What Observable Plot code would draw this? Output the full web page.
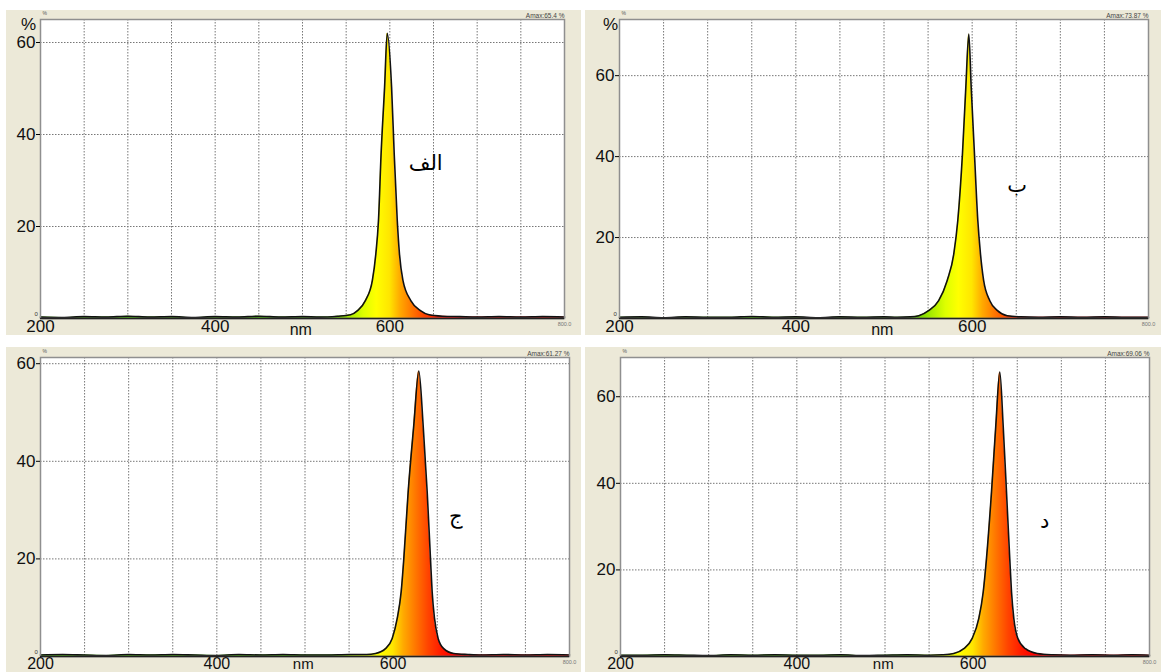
<!DOCTYPE html>
<html><head><meta charset="utf-8">
<script src="https://cdn.jsdelivr.net/npm/d3@7"></script>
<script src="https://cdn.jsdelivr.net/npm/@observablehq/plot@0.6"></script>
<style>
html,body{margin:0;padding:0;background:#fff}
#root{position:relative;width:1161px;height:672px;overflow:hidden;background:#fff}
.panel{position:absolute}
</style></head><body>
<div id="root"></div>
<script>
// ---- data ----
const wlA  = [200,225,250,275,300,325,350,375,400,425,450,475,500,520,540,555,563,572,580,584,587,590,594,597,602,605,608.5,611,615,624,635,645,660,680,700,725,750,775,800];
const valA = [0.3,0.2,0.4,0.3,0.5,0.3,0.4,0.2,0.4,0.3,0.5,0.3,0.4,0.3,0.5,0.8,1.7,3.9,8.3,14.1,21.3,35.8,50.3,62,50.3,35.8,21.3,14.1,8.3,3.9,1.7,0.8,0.5,0.4,0.3,0.4,0.3,0.4,0.3];

const wlB  = [200,225,250,275,300,325,350,375,400,425,450,475,500,515,530,539.5,551,562,571.7,579.2,583.7,589,592.8,596.2,598.9,602.6,606.4,609.4,613,620,628.4,639.7,655,675,700,725,750,775,800];
const valB = [0.3,0.4,0.2,0.4,0.3,0.3,0.5,0.3,0.4,0.2,0.4,0.3,0.4,0.3,0.4,0.7,2.0,4.4,9.4,16.0,24.2,40.7,57.1,70.3,57.1,40.7,24.2,16.0,9.4,4.4,2.0,0.7,0.4,0.3,0.4,0.3,0.4,0.3,0.3];

const wlC  = [200,225,250,275,300,325,350,375,400,425,450,475,500,525,550,570,580,591.3,598.9,604.6,609.1,612.1,617,623.4,629.1,634,638.6,642.3,644.2,646.9,651,657.4,668.7,685,700,725,750,775,800];
const valC = [0.3,0.4,0.3,0.2,0.4,0.3,0.4,0.3,0.2,0.4,0.3,0.4,0.3,0.3,0.4,0.4,0.6,1.6,3.7,7.8,13.3,20.1,33.7,47.4,58.5,47.4,33.7,20.1,13.3,7.8,3.7,1.6,0.6,0.4,0.3,0.4,0.3,0.4,0.3];

const wlD  = [200,225,250,275,300,325,350,375,400,425,450,475,500,525,550,565,578,589.4,598.9,606.4,611.4,615.1,620.8,625.7,630.2,634,637.8,641.5,643.5,646.1,650.6,659.3,672.6,690,710,735,760,780,800];
const valD = [0.3,0.3,0.4,0.3,0.2,0.4,0.3,0.4,0.3,0.3,0.4,0.2,0.3,0.4,0.3,0.4,0.7,1.8,4.2,8.8,14.9,22.6,38.0,53.4,65.7,53.4,38.0,22.6,14.9,8.8,4.2,1.8,0.7,0.4,0.3,0.4,0.3,0.4,0.3];

const amaxTexts = ["Amax:65.4 %","Amax:73.87 %","Amax:61.27 %","Amax:69.06 %"];
const yMax      = [65, 73.87, 61.27, 69.06];
const letters   = ["الف","ب","ج","د"];
const letterNm  = [641, 651, 671, 681];
const letterVal = [33.7, 32.9, 28.7, 31.2];
const xTicks    = [200,400,600];
const yTicks    = [20,40,60];
const gridNm    = [250,300,350,400,450,500,550,600,650,700,750];
const unitNm    = 498;
// spectral gradient stops (wavelength -> colour)
const gradNm    = [530,550,570,585,600,612,625,640,655,670];
const gradColor = ["#44bb00","#99e600","#ddff00","#ffff00","#ffe600","#ffaa00","#ff7a00","#ff4400","#ff1a00","#ff0000"];

// ---- layout ----
const layout = [
  {left:6,   top:10,  w:575, h:325, ml:34, mt:9,  mr:17, mb:17, fs:17, nmDy:11, pct:true,  pctDx:-12},
  {left:585, top:10,  w:576, h:325, ml:34, mt:9,  mr:13, mb:17, fs:17, nmDy:11, pct:true,  pctDx:-9},
  {left:6,   top:347, w:575, h:325, ml:34, mt:10, mr:12, mb:16, fs:16, nmDy:8,  pct:false},
  {left:585, top:347, w:576, h:325, ml:35, mt:10, mr:12, mb:16, fs:16, nmDy:8,  pct:false}
];
const series = [[wlA,valA],[wlB,valB],[wlC,valC],[wlD,valD]];
const root = document.getElementById("root");
const FONT = "'Liberation Sans', Arial, sans-serif";

series.forEach(([wl, val], k) => {
  const L = layout[k];
  const data = wl.map((w, i) => ({nm: w, v: val[i]}));
  const gid = "grad" + k;
  const marks = [
    Plot.frame({fill: "white", stroke: "none"}),
    Plot.gridX(gridNm, {stroke: "#777", strokeOpacity: 1, strokeWidth: 1, strokeDasharray: "1.5,1.5"}),
    Plot.gridY(yTicks, {stroke: "#777", strokeOpacity: 1, strokeWidth: 1, strokeDasharray: "1.5,1.5"}),
    Plot.areaY(data, {x: "nm", y: "v", fill: `url(#${gid})`, curve: "monotone-x"}),
    Plot.lineY(data, {x: "nm", y: "v", stroke: "#111", strokeWidth: 1.6, curve: "monotone-x"}),
    Plot.frame({stroke: "#8f8f8f", strokeWidth: 1.5}),
    Plot.ruleY([0], {stroke: "#222", strokeWidth: 1.6}),
    Plot.axisX(xTicks, {tickSize: 0, tickPadding: 1, fontSize: L.fs, fill: "#111", label: null}),
    Plot.axisY(yTicks, {tickSize: 4, tickPadding: 1, fontSize: 17, fill: "#111", label: null}),
    Plot.text(["0"], {frameAnchor: "bottom-left", dx: -6, dy: -3, fontSize: 6, fill: "#333"}),
    Plot.text(["%"], {frameAnchor: "top-left", dx: 2, dy: -6, fontSize: 5, fill: "#555", lineAnchor: "middle"}),
    Plot.text(["nm"], {x: [unitNm], frameAnchor: "bottom", dy: L.nmDy, fontSize: L.fs - 1, fill: "#111", lineAnchor: "middle"}),
    Plot.text(["800.0"], {frameAnchor: "bottom-right", dy: 6, fontSize: 5.5, fill: "#777", textAnchor: "middle", lineAnchor: "middle"}),
    Plot.text([amaxTexts[k]], {frameAnchor: "top-right", dy: -2, fontSize: 6.5, fill: "#444", textAnchor: "end", lineAnchor: "bottom"}),
    Plot.text([letters[k]], {x: [letterNm[k]], y: [letterVal[k]], fontSize: 21, fill: "#000", fontFamily: "'DejaVu Sans', sans-serif"})
  ];
  if (L.pct) marks.push(Plot.text(["%"], {frameAnchor: "top-left", dx: L.pctDx, dy: 5, fontSize: 17, fill: "#111", textAnchor: "middle", lineAnchor: "middle"}));

  const svg = Plot.plot({
    width: L.w, height: L.h,
    marginLeft: L.ml, marginTop: L.mt, marginRight: L.mr, marginBottom: L.mb,
    style: {background: "#ECE9D8", fontFamily: FONT, overflow: "visible"},
    x: {domain: [200, 800]},
    y: {domain: [0, yMax[k]]},
    marks
  });
  const xs = svg.scale("x");
  const defs = d3.select(svg).insert("defs", ":first-child");
  const g = defs.append("linearGradient").attr("id", gid)
    .attr("gradientUnits", "userSpaceOnUse")
    .attr("x1", xs.apply(gradNm[0])).attr("x2", xs.apply(gradNm[gradNm.length - 1]))
    .attr("y1", 0).attr("y2", 0);
  const n0 = gradNm[0], n1 = gradNm[gradNm.length - 1];
  gradNm.forEach((nm, i) => g.append("stop").attr("offset", (nm - n0) / (n1 - n0)).attr("stop-color", gradColor[i]));

  const div = document.createElement("div");
  div.className = "panel";
  div.style.left = L.left + "px";
  div.style.top = L.top + "px";
  div.appendChild(svg);
  root.appendChild(div);
});
</script>
</body></html>
